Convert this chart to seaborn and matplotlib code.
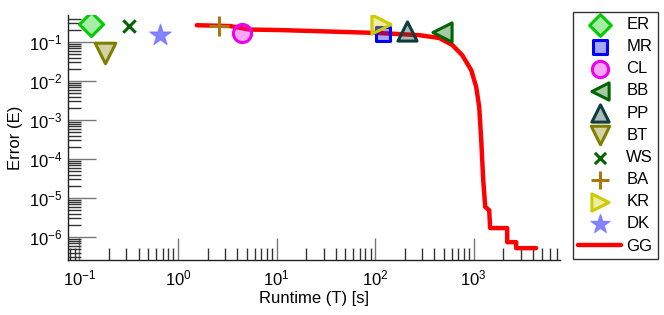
import numpy as np
import matplotlib
matplotlib.use('Agg')
import matplotlib.pyplot as plt
import seaborn as sns
import pandas as pd

# --- data ---
methods = ['ER', 'MR', 'CL', 'BB', 'PP', 'BT', 'WS', 'BA', 'KR', 'DK']
runtime = [0.13, 120, 4.5, 480, 210, 0.18, 0.32, 2.6, 116, 0.65]
error = [0.29, 0.16, 0.17, 0.18, 0.19, 0.052, 0.26, 0.26, 0.29, 0.15]
markers = ['D', 's', 'o', '<', '^', 'v', 'x', '+', '>', '*']
colors = ['#00cc00', '#0000ff', '#ee00ee', '#006400', '#0f3c3c',
          '#808000', '#006400', '#aa7711', '#cccc00', '#6666ff']
sizes = [150, 110, 170, 190, 190, 220, 80, 200, 190, 260]

gg_time = [1.55, 3.37, 5.33, 10.7, 34.5, 111, 177, 282, 449, 608, 768, 948,
           1065, 1142, 1197, 1225, 1254, 1314, 1441, 1475, 2195, 2195,
           2709, 2709, 4310]
gg_error = [0.27, 0.257, 0.209, 0.203, 0.186, 0.170, 0.16, 0.15, 0.127, 0.084,
            0.046, 0.019, 0.0070, 0.00215, 3.07e-4, 9.4e-5, 2.9e-5, 5.9e-6,
            4.9e-6, 1.7e-6, 1.7e-6, 7.4e-7, 7.4e-7, 5.2e-7, 5.2e-7]

sns.set_style('white')
plt.rcParams['font.family'] = ['Liberation Sans', 'DejaVu Sans']
plt.rcParams['mathtext.fontset'] = 'custom'
plt.rcParams['mathtext.rm'] = 'Liberation Sans'
plt.rcParams['mathtext.it'] = 'Liberation Sans'
plt.rcParams['text.color'] = 'black'
plt.rcParams['axes.labelcolor'] = 'black'
plt.rcParams['xtick.color'] = 'black'
plt.rcParams['ytick.color'] = 'black'

fig = plt.figure(figsize=(6.64, 3.15), dpi=100)
ax = fig.add_axes([0.102, 0.175, 0.741, 0.777])

df_gg = pd.DataFrame({'T': gg_time, 'E': gg_error})
sns.lineplot(data=df_gg, x='T', y='E', sort=False, estimator=None,
             color='red', linewidth=3.2, ax=ax, label='GG', zorder=3)

for i, m in enumerate(methods):
    c = matplotlib.colors.to_rgba(colors[i])
    face = (c[0], c[1], c[2], 0.35)
    if markers[i] in ['x', '+']:
        sns.scatterplot(x=[runtime[i]], y=[error[i]], marker=markers[i], s=sizes[i],
                        color=colors[i], linewidth=2.2, ax=ax, label=m, zorder=4)
    elif markers[i] == '*':
        sns.scatterplot(x=[runtime[i]], y=[error[i]], marker='*', s=sizes[i],
                        facecolor=(c[0], c[1], c[2], 0.8), edgecolor=(c[0], c[1], c[2], 0.6),
                        linewidth=1, ax=ax, label=m, zorder=4)
    else:
        sns.scatterplot(x=[runtime[i]], y=[error[i]], marker=markers[i], s=sizes[i],
                        facecolor=face, edgecolor=colors[i], linewidth=2.2,
                        ax=ax, label=m, zorder=4)

ax.set_xscale('log')
ax.set_yscale('log')
ax.set_xlim(0.076, 7500)
ax.set_ylim(2.6e-7, 0.49)
ax.set_xticks([0.1, 1, 10, 100, 1000])
ax.set_yticks([1e-6, 1e-5, 1e-4, 1e-3, 1e-2, 1e-1])
ax.xaxis.set_minor_locator(matplotlib.ticker.LogLocator(base=10, subs=np.arange(2, 10), numticks=20))
ax.yaxis.set_minor_locator(matplotlib.ticker.LogLocator(base=10, subs=np.arange(2, 10), numticks=20))
ax.yaxis.set_minor_formatter(matplotlib.ticker.NullFormatter())
ax.xaxis.set_minor_formatter(matplotlib.ticker.NullFormatter())

ax.tick_params(which='both', bottom=True, left=True, top=False, right=False)
ax.tick_params(which='major', direction='in', length=16, width=1, color='#777777',
               labelsize=12, labelcolor='black', pad=6)
ax.tick_params(which='minor', direction='in', length=9, width=1, color='#333333')
ax.tick_params(axis='y', which='major', pad=4, length=20)

for s in ['top', 'right']:
    ax.spines[s].set_visible(False)
for s in ['left', 'bottom']:
    ax.spines[s].set_color('#222222')
    ax.spines[s].set_linewidth(1)

ax.set_xlabel('Runtime (T) [s]', fontsize=12, labelpad=2)
ax.set_ylabel('Error (E)', fontsize=12, labelpad=4)

h, l = ax.get_legend_handles_labels()
order = [l.index(m) for m in methods] + [l.index('GG')]
leg = ax.legend([h[k] for k in order], [l[k] for k in order],
                loc='upper left', bbox_to_anchor=(0.863, 0.962),
                bbox_transform=fig.transFigure, fontsize=12, frameon=True,
                fancybox=False, edgecolor='black', borderpad=0.3,
                labelspacing=0.43, handlelength=2.6, handletextpad=0.3,
                borderaxespad=0, markerscale=0.9)
leg.get_frame().set_linewidth(1)
for t in leg.get_texts():
    t.set_color('black')

fig.savefig('out.png', dpi=100)
